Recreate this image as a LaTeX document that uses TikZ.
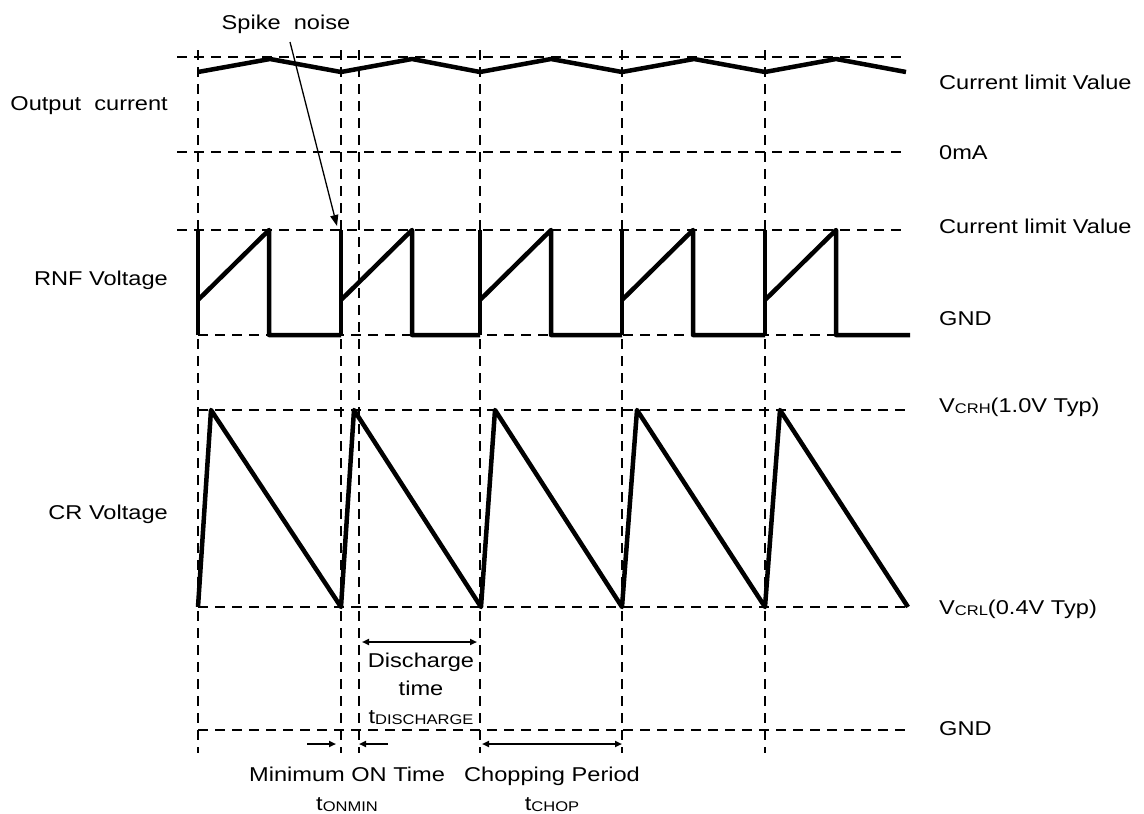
\documentclass[tikz,border=0pt]{standalone}
\usepackage{fontspec}
\setmainfont{Liberation Sans}[FakeStretch=1.18]
\usetikzlibrary{arrows.meta}
\newcommand{\lowsub}[1]{\raisebox{-1.5pt}{\fontsize{14}{14}\selectfont #1}}
\begin{document}
\begin{tikzpicture}[>={Triangle[length=7pt,width=6pt]},x=1pt,y=-1pt,
	font=\fontsize{20}{24}\selectfont,
	guide/.style={line width=2pt,dash pattern=on 10pt off 7pt},
	wave/.style={line width=4.5pt,line join=round},
	dim/.style={line width=1.8pt},
	lbl/.style={inner sep=0pt,anchor=base},
	lbll/.style={inner sep=0pt,anchor=base east},
	lblr/.style={inner sep=0pt,anchor=base west}]
	\useasboundingbox (0,0) rectangle (1144,814);
	\def\tr{71}   % Anstiegszeit RNF
	% Hilfslinien
	\foreach \t in {198,341,359,480,622,765}
		\draw[guide] (\t,50) -- (\t,753);
	\foreach \y in {57,152,230}
		\draw[guide] (177,\y) -- (907,\y);
	\foreach \y in {335,410,607,730}
		\draw[guide] (198,\y) -- (910,\y);
	% Ausgangsstrom
	\draw[wave] (198,72) -- (270,59) -- (341,72) -- (412,59) -- (480,72) -- (551,59)
		-- (622,72) -- (694,59) -- (765,72) -- (836,59) -- (906,72);
	% RNF-Spannung
	\foreach \t/\n in {198/341,341/480,480/622,622/765,765/910}{
		\draw[wave] (\t,335) -- (\t,230);
		\draw[wave] (\t,300) -- (\t+\tr,230) -- (\t+\tr,335) -- (\n,335);
	}
	% CR-Spannung
	\draw[wave] (198,607) -- (211,410) -- (341,607) -- (354,410) -- (481,607) -- (495,410)
		-- (622,607) -- (637,410) -- (765,607) -- (780,410) -- (908,607);
	% Beschriftungen links
	\node[lbll] (outlbl) at (168,110) {Output\ \ current};
	\node[lbll] (rnflbl) at (168,285) {RNF Voltage};
	\node[lbll] (crlbl) at (168,519) {CR Voltage};
	% Beschriftungen rechts
	\node[lblr] (limA) at (939,89) {Current limit Value};
	\node[lblr] (zeroA) at (939,159) {0mA};
	\node[lblr] (limB) at (939,233) {Current limit Value};
	\node[lblr] (gndA) at (939,325) {GND};
	\node[lblr] (vcrh) at (939,412) {V\lowsub{CRH}(1.0V Typ)};
	\node[lblr] (vcrl) at (939,614) {V\lowsub{CRL}(0.4V Typ)};
	\node[lblr] (gndB) at (939,735) {GND};
	% Spike noise
	\node[lbl] (spikelbl) at (286,29) {Spike\ \ noise};
	\coordinate (spiketip) at (337,226);
	\draw[line width=1.3pt,-{Triangle[length=11pt,width=8pt]}] (290,42) -- (spiketip);
	% Zeiten
	\coordinate (dsA) at (362,642);
	\coordinate (dsB) at (477,642);
	\draw[dim,<->] (dsA) -- (dsB);
	\node[lbl] (dischA) at (421,667) {Discharge};
	\node[lbl] (dischB) at (421,695) {time};
	\node[lbl] (dischC) at (421,723) {t\lowsub{DISCHARGE}};
	\coordinate (onA) at (307,744);
	\coordinate (onB) at (336,744);
	\coordinate (onC) at (388,744);
	\coordinate (onD) at (359,744);
	\draw[dim,->] (onA) -- (onB);
	\draw[dim,->] (onC) -- (onD);
	\node[lbl] (onminA) at (347,781) {Minimum ON Time};
	\node[lbl] (onminB) at (347,810) {t\lowsub{ONMIN}};
	\coordinate (chA) at (482,744);
	\coordinate (chB) at (622,744);
	\draw[dim,<->] (chA) -- (chB);
	\node[lbl] (chopA) at (552,781) {Chopping Period};
	\node[lbl] (chopB) at (552,810) {t\lowsub{CHOP}};
\end{tikzpicture}
\end{document}
